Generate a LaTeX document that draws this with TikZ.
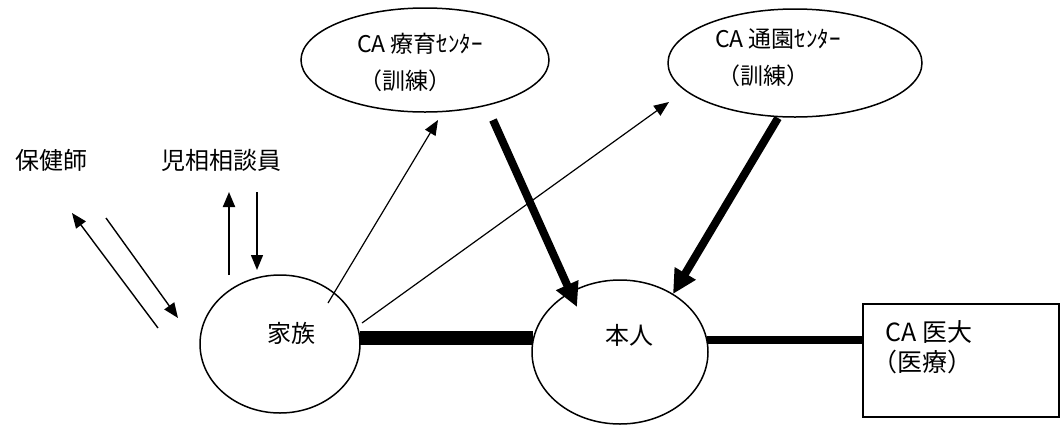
\documentclass[tikz,border=0pt]{standalone}
\usepackage{fontspec}
\setmainfont{Noto Sans CJK JP}
\usetikzlibrary{arrows.meta,shapes.geometric}
\begin{document}
\begin{tikzpicture}[x=1pt,y=-1pt,
  outline/.style={draw,line width=1.5pt,inner sep=0pt},
  oval/.style={outline,ellipse},
  lbl/.style={inner sep=0pt,font=\fontsize{24}{26}\selectfont},
  otext/.style={inner sep=0pt,align=left,font=\fontsize{23}{37}\selectfont},
  thinarrow/.style={line width=1.4pt,-{Triangle[length=15pt,width=12pt]}},
  thickarrow/.style={line width=8pt,-{Triangle[length=24pt,width=23pt]}}]
\useasboundingbox (0,0) rectangle (1061,424);
% shapes
\node[oval,minimum width=248pt,minimum height=104pt] (ryoiku) at (425,60) {};
\node[oval,minimum width=254pt,minimum height=108pt] (tsuen) at (795,63) {};
\node[oval,minimum width=160pt,minimum height=138pt] (kazoku) at (280,344) {};
\node[oval,minimum width=176pt,minimum height=144pt] (honnin) at (620,352) {};
\node[outline,rectangle,minimum width=196pt,minimum height=113pt] (idai) at (961,360.5) {};
% texts
\node[lbl] (hokenshi) at (52,160) {保健師};
\node[lbl] (jiso) at (221,160) {児相相談員};
\node[otext] (ryoikutxt) at (420,62) {CA 療育ｾﾝﾀｰ\\\hspace*{2pt}（訓練）};
\node[otext] (tsuentxt) at (778,58) {CA 通園ｾﾝﾀｰ\\\hspace*{2pt}（訓練）};
\node[lbl] (kazokutxt) at (291,333) {家族};
\node[lbl] (honnintxt) at (629,335) {本人};
\node[otext,font=\fontsize{25}{30}\selectfont] (idaitxt) at (929,347) {CA 医大\\\hspace*{-13pt}（医療）};
% connector end points
\coordinate (h1) at (158,328);
\coordinate (h2) at (72,213);
\coordinate (h3) at (106,218);
\coordinate (h4) at (178,318);
\coordinate (j1) at (229,275);
\coordinate (j2) at (229,192);
\coordinate (j3) at (257,192);
\coordinate (j4) at (257,270);
\coordinate (k1) at (328,303);
\coordinate (r1) at (438,120);
\coordinate (k2) at (362,323);
\coordinate (t1) at (669,102);
\coordinate (r2) at (493,120);
\coordinate (n1) at (577,307);
\coordinate (t2) at (778,118);
\coordinate (n2) at (673,294);
\coordinate (k3) at (360,338);
\coordinate (n3) at (533,338);
\coordinate (n4) at (707,340);
\coordinate (d1) at (863,340);
% connectors
\draw[thinarrow] (h1) -- (h2);
\draw[thinarrow] (h3) -- (h4);
\draw[thinarrow,line width=2pt] (j1) -- (j2);
\draw[thinarrow] (j3) -- (j4);
\draw[thinarrow,line width=1.2pt] (k1) -- (r1);
\draw[thinarrow,line width=1.2pt] (k2) -- (t1);
\draw[thickarrow] (r2) -- (n1);
\draw[thickarrow] (t2) -- (n2);
\draw[line width=14pt] (k3) -- (n3);
\draw[line width=8pt] (n4) -- (d1);
\end{tikzpicture}
\end{document}
